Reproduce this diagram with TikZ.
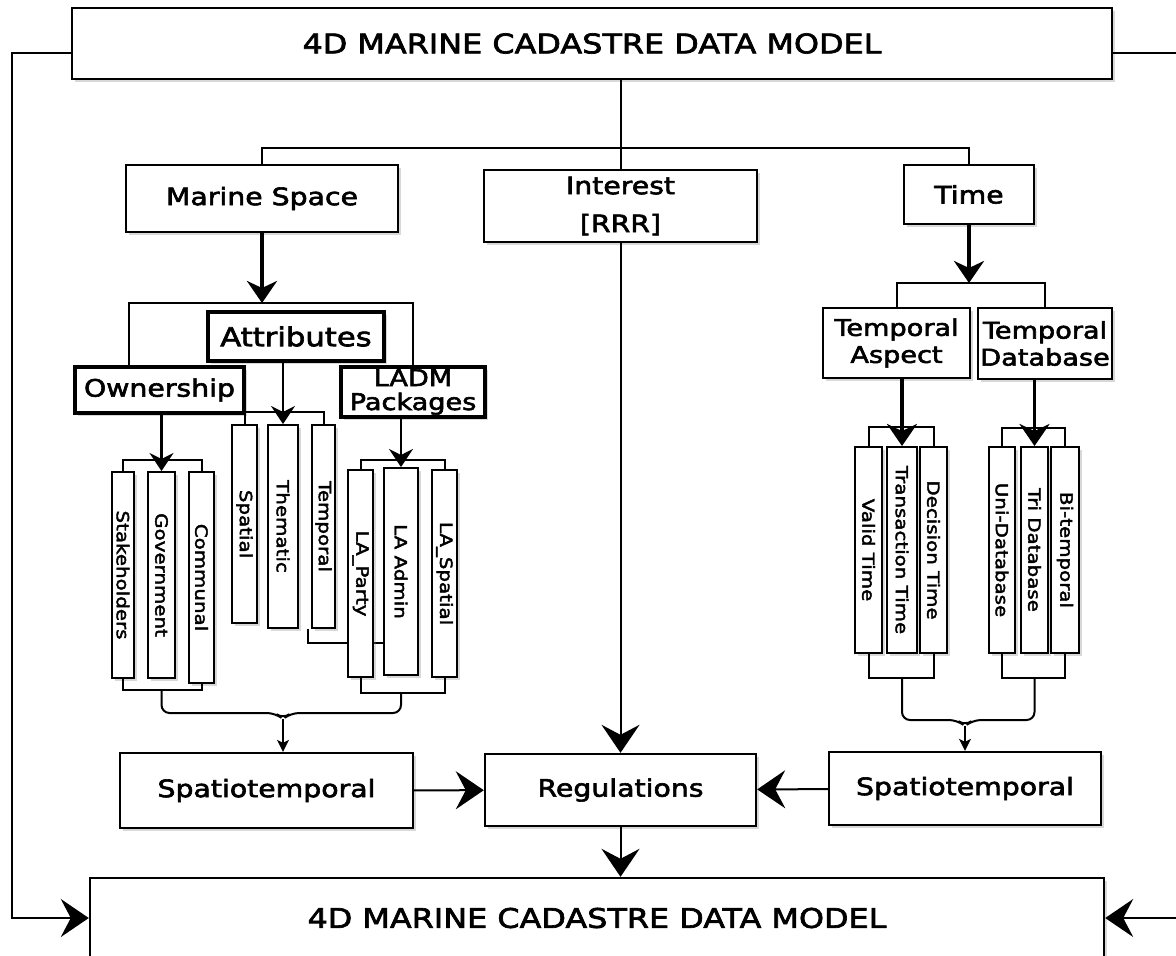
\documentclass[tikz,border=0pt]{standalone}
\usepackage{fontspec}
\newfontfamily\sketchfont[FakeStretch=1.18, FakeBold=2.5]{DejaVu Sans}
\usetikzlibrary{arrows.meta, shadows, backgrounds}

\begin{document}
\begin{tikzpicture}[x=0.5pt, y=-0.5pt,
    box/.style={draw, line width=1.2pt, fill=white, inner sep=0pt, align=center,
      font=\sketchfont\fontsize{12}{13}\selectfont,
      drop shadow={shadow xshift=1.5pt, shadow yshift=-1.5pt, opacity=0.3}},
    heavybox/.style={box, line width=2pt},
    col/.style={box, line width=1pt, font=\sketchfont\fontsize{8.4}{9}\selectfont},
    link/.style={line width=1pt},
    bigarrow/.style={link, -{Stealth[length=14pt, width=19pt, inset=5pt]}},
    thickarrow/.style={line width=1.9pt, -{Stealth[length=11pt, width=15pt, inset=3.5pt]}},
    medarrow/.style={line width=1.3pt, -{Stealth[length=9pt, width=12pt, inset=3pt]}},
    thinarrow/.style={line width=0.8pt, -{Stealth[length=6pt, width=6pt, inset=1.5pt]}}]

    \useasboundingbox (0,0) rectangle (1176,955);

    \node[box, minimum width=520pt, minimum height=35.5pt, font=\sketchfont\fontsize{13.5}{16}\selectfont] (top) at (592,43.5) {4D MARINE CADASTRE DATA MODEL};
    \node[box, minimum width=507pt, minimum height=40pt, font=\sketchfont\fontsize{13.5}{16}\selectfont] (bot) at (597,918) {4D MARINE CADASTRE DATA MODEL};

    \node[box, minimum width=136pt, minimum height=33.5pt] (marine) at (262,198.5) {Marine Space};
    \node[box, minimum width=136.5pt, minimum height=36pt, font=\sketchfont\fontsize{12}{19}\selectfont] (inter) at (620.5,206) {Interest\\{[RRR]}};
    \node[box, minimum width=65pt, minimum height=29.5pt] (time) at (969,194.5) {Time};

    \node[heavybox, minimum width=88pt, minimum height=24.5pt, font=\sketchfont\fontsize{13}{14}\selectfont] (attr) at (296,336.5) {Attributes};
    \node[heavybox, minimum width=84.5pt, minimum height=23pt] (own) at (159.5,390) {Ownership};
    \node[heavybox, minimum width=72pt, minimum height=25pt, font=\sketchfont\fontsize{11.5}{12}\selectfont] (ladm) at (413,392) {LADM\\Packages};
    \node[box, minimum width=73.5pt, minimum height=35pt, font=\sketchfont\fontsize{11.5}{13.5}\selectfont] (aspect) at (896.5,343) {Temporal\\Aspect};
    \node[box, minimum width=67pt, minimum height=35.5pt, font=\sketchfont\fontsize{11.5}{13.5}\selectfont] (tdb) at (1045,343.5) {Temporal\\Database};

    \node[col, minimum width=11pt, minimum height=103pt] (stake) at (123,575) {\rotatebox{-90}{Stakeholders}};
    \node[col, minimum width=13.5pt, minimum height=103pt] (gov) at (161.5,575) {\rotatebox{-90}{Government}};
    \node[col, minimum width=12.5pt, minimum height=105.5pt] (comm) at (201.5,577.5) {\rotatebox{-90}{Communal}};
    \node[col, minimum width=12.5pt, minimum height=99pt] (spat) at (244.5,524) {\rotatebox{-90}{Spatial}};
    \node[col, minimum width=15pt, minimum height=101.5pt] (them) at (283,526.5) {\rotatebox{-90}{Thematic}};
    \node[col, minimum width=11.5pt, minimum height=101.5pt] (tempa) at (323.5,526.5) {\rotatebox{-90}{Temporal}};
    \node[col, minimum width=12.5pt, minimum height=103.5pt] (party) at (360.5,573.5) {\rotatebox{-90}{LA\_Party}};
    \node[col, minimum width=17pt, minimum height=103.5pt] (ladmin) at (401,571.5) {\rotatebox{-90}{LA Admin}};
    \node[col, minimum width=12.5pt, minimum height=103.5pt] (laspat) at (444.5,573.5) {\rotatebox{-90}{LA\_Spatial}};
    \node[col, minimum width=13.5pt, minimum height=103pt] (valid) at (868.5,550) {\rotatebox{-90}{Valid Time}};
    \node[col, minimum width=15pt, minimum height=103pt] (trans) at (902,550) {\rotatebox{-90}{Transaction Time}};
    \node[col, minimum width=13.5pt, minimum height=103pt] (decis) at (933.5,550) {\rotatebox{-90}{Decision Time}};
    \node[col, minimum width=13pt, minimum height=103pt] (uni) at (1002,550) {\rotatebox{-90}{Uni-Database}};
    \node[col, minimum width=13.5pt, minimum height=103pt] (tri) at (1034.5,550) {\rotatebox{-90}{Tri Database}};
    \node[col, minimum width=14pt, minimum height=103pt] (bi) at (1065,550) {\rotatebox{-90}{Bi-temporal}};

    \node[box, minimum width=146.5pt, minimum height=37.5pt] (spl) at (266.5,790.5) {Spatiotemporal};
    \node[box, minimum width=135.5pt, minimum height=36pt] (regul) at (620.5,790) {Regulations};
    \node[box, minimum width=136pt, minimum height=36.5pt] (spr) at (965,788.5) {Spatiotemporal};

    \coordinate (bar) at (620.5,148);
    \coordinate (msbar) at (262,303);
    \coordinate (attbar) at (283,412);
    \coordinate (ownbar) at (161.5,460);
    \coordinate (ladbar) at (401,460);
    \coordinate (tbar) at (969,283);
    \coordinate (tabar) at (902,427);
    \coordinate (tdbar) at (1034.5,428);
    \coordinate (ownlow) at (161.5,690);
    \coordinate (ladlow) at (401,693);
    \coordinate (talow) at (902,678);
    \coordinate (tdlow) at (1034.5,678);
    \coordinate (lbrace) at (283,713);
    \coordinate (rbrace) at (965,720);
    \coordinate (lside) at (12,500);
    \coordinate (rside) at (1200,500);
    \coordinate (stray) at (0,643);

    \begin{pgfonlayer}{background}
      \fill[white] (0,0) rectangle (1176,955);
      \draw[link] ([xshift=-1.5pt]tempa.south west) |- (ladmin.west |- stray);
    \end{pgfonlayer}

    \draw[link] (top.south -| inter.north) -- (inter.north);
    \draw[link] (marine.north) |- (bar) -| (time.north);
    \draw[bigarrow] (inter) -- (regul);

    \draw[thickarrow] (marine) -- (msbar);
    \draw[link] ([xshift=28pt]own.north west) |- (msbar) -| (ladm.north);
    \draw[medarrow] (attr.south -| them.north) -- (them.north);
    \draw[link] (spat.north) |- (attbar) -| (tempa.north);
    \draw[medarrow] (own.south -| gov.north) -- (gov.north);
    \draw[link] (stake.north) |- (ownbar) -| (comm.north);
    \draw[medarrow] (ladm.south -| ladmin.north) -- (ladmin.north);
    \draw[link] (party.north) |- (ladbar) -| (laspat.north);

    \draw[thickarrow] (time) -- (tbar);
    \draw[link] (aspect.north) |- (tbar) -| (tdb.north);
    \draw[thickarrow] (aspect.south -| trans.north) -- (trans.north);
    \draw[link] (valid.north) |- (tabar) -| (decis.north);
    \draw[thickarrow] (tdb.south -| tri.north) -- (tri.north);
    \draw[link] (uni.north) |- (tdbar) -| (bi.north);

    \draw[link] (stake.south) |- (ownlow) -| (comm.south);
    \draw[link] (party.south) |- (ladlow) -| (laspat.south);
    \draw[link, rounded corners=4pt] (ownlow) |- ([xshift=-4pt]lbrace) -- ([yshift=-3pt]lbrace)
      -- ([xshift=4pt]lbrace) -| (ladlow);
    \draw[thinarrow] ([yshift=-3pt]lbrace) -- (lbrace |- spl.north);
    \draw[link] (valid.south) |- (talow) -| (decis.south);
    \draw[link] (uni.south) |- (tdlow) -| (bi.south);
    \draw[link, rounded corners=4pt] (talow) |- ([xshift=-4pt]rbrace) -- ([yshift=-3pt]rbrace)
      -- ([xshift=4pt]rbrace) -| (tdlow);
    \draw[thinarrow] ([yshift=-3pt]rbrace) -- (spr.north);

    \draw[bigarrow] (spl) -- (regul);
    \draw[bigarrow] (spr) -- (regul);
    \draw[bigarrow] (regul) -- (regul |- bot.north);
    \draw[bigarrow] ([yshift=-4.5pt]top.west) -| (lside) |- (bot.west);
    \draw[bigarrow] ([yshift=-4.5pt]top.east) -| (rside) |- (bot.east);
\end{tikzpicture}
\end{document}
